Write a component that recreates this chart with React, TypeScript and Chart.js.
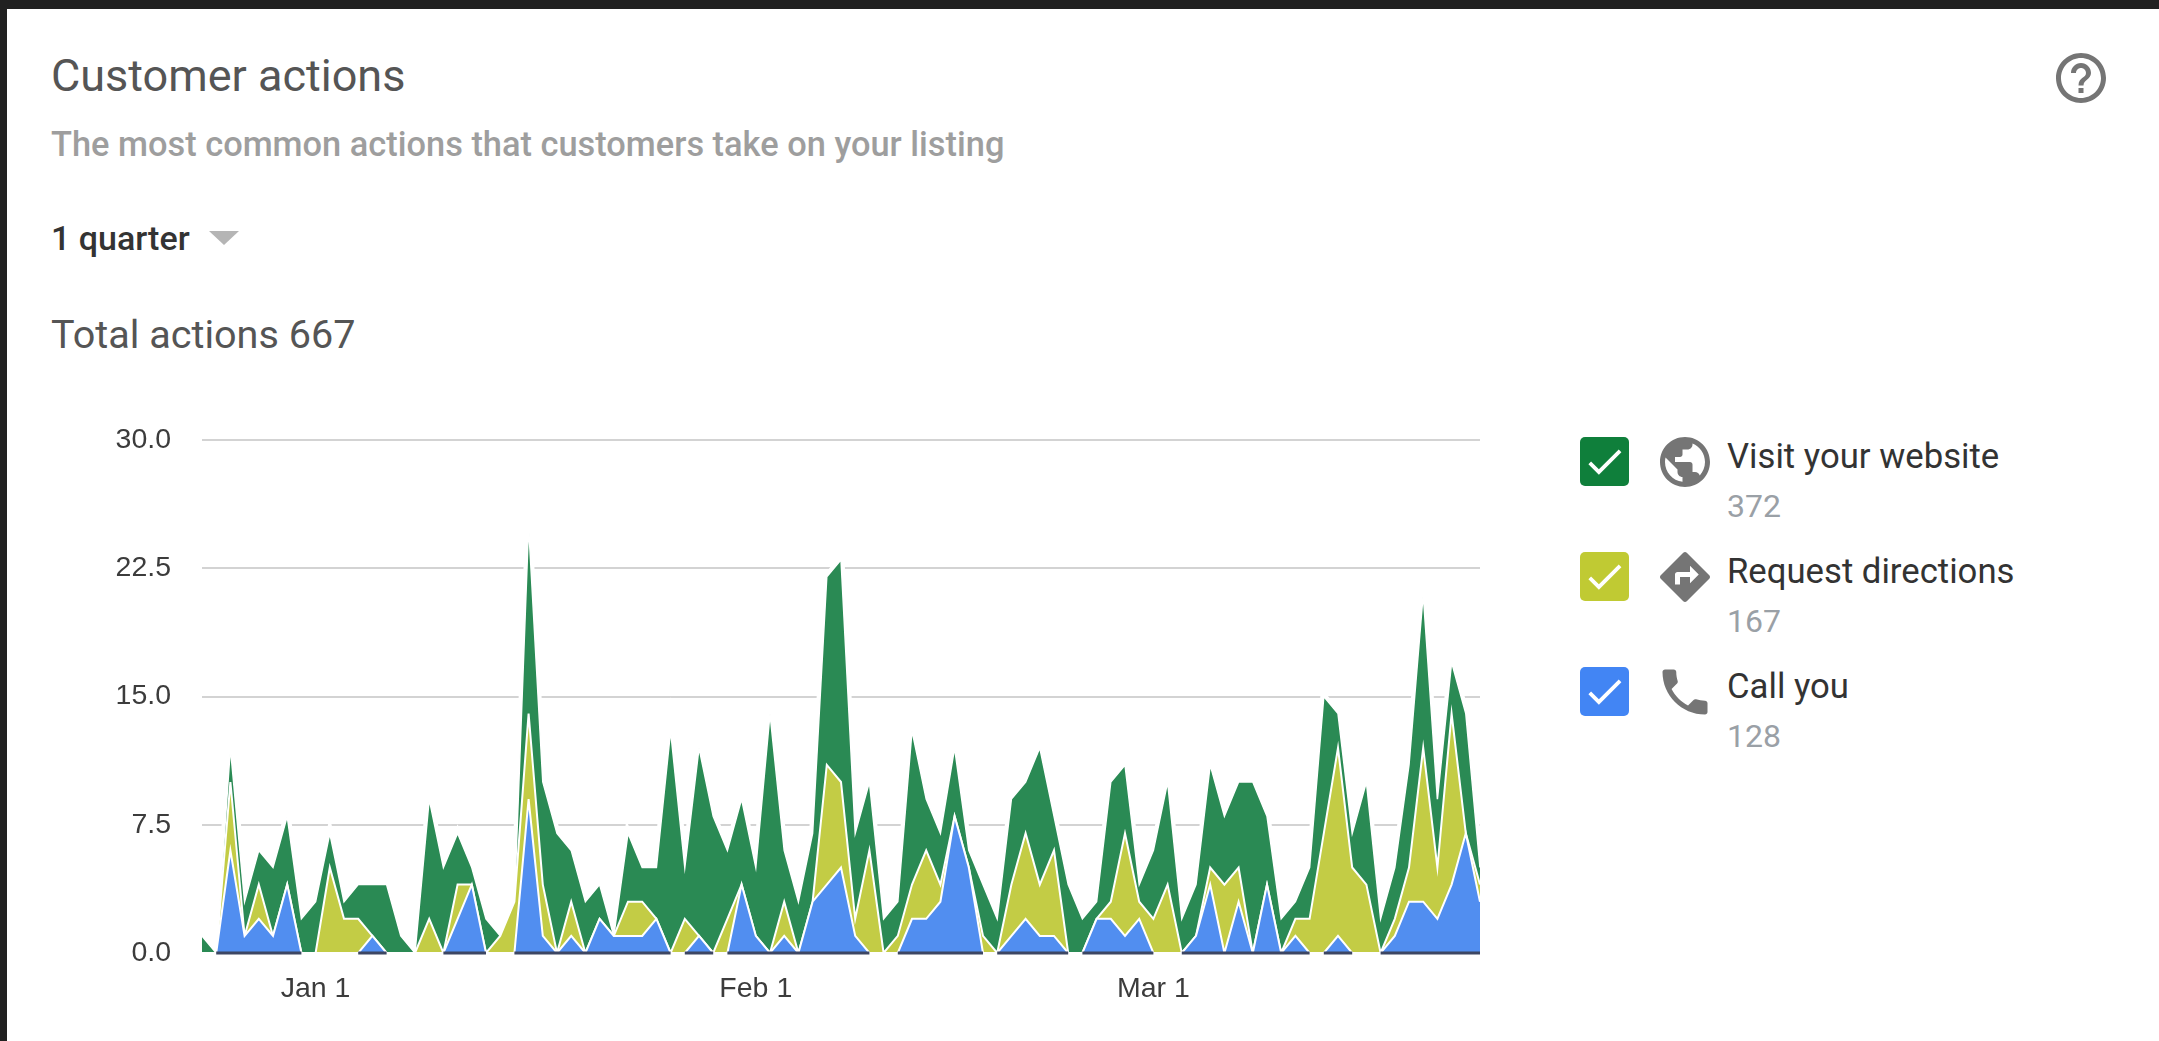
import React, { useEffect, useRef } from "react";
import { Chart, registerables } from "chart.js";

Chart.register(...registerables);

// One label per day, Dec 24 through Mar 24.
const monthSpans: [string, number, number][] = [
  ["Dec", 24, 31],
  ["Jan", 1, 31],
  ["Feb", 1, 28],
  ["Mar", 1, 24],
];
const dayLabels: string[] = monthSpans.flatMap(([m, from, to]) => {
  const out: string[] = [];
  for (let d = from; d <= to; d++) out.push(`${m} ${d}`);
  return out;
});
const shownDates = ["Jan 1", "Feb 1", "Mar 1"];

const callYou = [
  0, 0, 6, 1, 2, 1, 4, 0, 0, 0,
  0, 0, 1, 0, 0, 0, 0, 0, 2, 4,
  0, 0, 0, 9, 1, 0, 1, 0, 2, 1,
  1, 1, 2, 0, 0, 1, 0, 0, 4, 1,
  0, 1, 0, 3, 4, 5, 1, 0, 0, 0,
  2, 2, 3, 8, 5, 0, 0, 1, 2, 1,
  1, 0, 0, 2, 2, 1, 2, 0, 0, 0,
  1, 4, 0, 3, 0, 4, 0, 1, 0, 0,
  1, 0, 0, 0, 1, 3, 3, 2, 4, 7,
  3,
];
const requestDirections = [
  0, 0, 4, 0, 2, 0, 0, 0, 0, 5,
  2, 2, 0, 0, 0, 0, 2, 0, 2, 0,
  0, 1, 3, 5, 3, 0, 2, 0, 0, 0,
  2, 2, 0, 0, 2, 0, 0, 2, 0, 0,
  0, 2, 0, 0, 7, 5, 1, 6, 0, 1,
  2, 4, 1, 0, 0, 1, 0, 3, 5, 3,
  5, 0, 0, 0, 1, 6, 1, 2, 4, 0,
  0, 1, 4, 2, 0, 0, 0, 1, 2, 7,
  11, 5, 4, 0, 1, 2, 9, 3, 10, 0,
  1,
];
const visitWebsite = [
  1, 0, 2, 2, 2, 4, 4, 2, 3, 2,
  1, 2, 3, 4, 1, 0, 7, 5, 3, 1,
  2, 0, 0, 11, 6, 7, 3, 3, 2, 0,
  4, 2, 3, 13, 3, 11, 8, 4, 5, 4,
  14, 3, 3, 4, 11, 13, 5, 4, 2, 2,
  9, 3, 3, 4, 1, 3, 2, 5, 3, 8,
  2, 4, 2, 1, 7, 4, 1, 4, 6, 2,
  3, 6, 4, 5, 10, 4, 2, 1, 3, 8,
  2, 2, 6, 2, 3, 6, 9, 4, 3, 7,
  1,
];

const yTickStep = 7.5;
const yMax = 30;

const GREEN = "#2A8A54";
const YELLOW = "#C3CC45";
const BLUE = "#518EF0";

const ICON_GLOBE =
  "M12 2C6.48 2 2 6.48 2 12s4.48 10 10 10 10-4.48 10-10S17.52 2 12 2zm-1 17.93c-3.95-.49-7-3.85-7-7.93 0-.62.08-1.21.21-1.79L9 15v1c0 1.1.9 2 2 2v1.93zm6.9-2.54c-.26-.81-1-1.39-1.9-1.39h-1v-3c0-.55-.45-1-1-1H8v-2h2c.55 0 1-.45 1-1V7h2c1.1 0 2-.9 2-2v-.41c2.93 1.19 5 4.06 5 7.41 0 2.08-.8 3.97-2.1 5.39z";
const ICON_DIRECTIONS =
  "M21.71 11.29l-9-9c-.39-.39-1.02-.39-1.41 0l-9 9c-.39.39-.39 1.02 0 1.41l9 9c.39.39 1.02.39 1.41 0l9-9c.39-.38.39-1.01 0-1.41zM14 14.5V12h-4v3H8v-4c0-.55.45-1 1-1h5V7.5l3.5 3.5-3.5 3.5z";
const ICON_PHONE =
  "M6.62 10.79c1.44 2.83 3.76 5.14 6.59 6.59l2.2-2.2c.27-.27.67-.36 1.02-.24 1.12.37 2.33.57 3.57.57.55 0 1 .45 1 1V20c0 .55-.45 1-1 1-9.39 0-17-7.61-17-17 0-.55.45-1 1-1h3.5c.55 0 1 .45 1 1 0 1.25.2 2.45.57 3.57.11.35.03.74-.25 1.02l-2.2 2.2z";
const ICON_HELP =
  "M11 18h2v-2h-2v2zm1-16C6.48 2 2 6.48 2 12s4.48 10 10 10 10-4.48 10-10S17.52 2 12 2zm0 18c-4.41 0-8-3.59-8-8s3.59-8 8-8 8 3.59 8 8-3.59 8-8 8zm0-14c-2.21 0-4 1.79-4 4h2c0-1.1.9-2 2-2s2 .9 2 2c0 2-3 1.75-3 5h2c0-2.25 3-2.5 3-5 0-2.21-1.79-4-4-4z";
const ICON_CHECK = "M9 16.17L4.83 12l-1.41 1.41L9 19 21 7l-1.41-1.41z";

const legendRows = [
  { label: "Visit your website", count: "372", color: "#0F7F3B", icon: ICON_GLOBE, boxTop: 437, textY: 457, countY: 506 },
  { label: "Request directions", count: "167", color: "#C0CA33", icon: ICON_DIRECTIONS, boxTop: 552, textY: 572, countY: 621 },
  { label: "Call you", count: "128", color: "#4285F4", icon: ICON_PHONE, boxTop: 667, textY: 687, countY: 736 },
];

function Label(props: { x: number; y: number; size: number; color: string; weight?: number; text: string }) {
  const { x, y, size, color, weight, text } = props;
  return (
    <div
      style={{
        position: "absolute",
        left: x,
        top: y,
        transform: "translateY(-50%)",
        fontFamily: "Roboto, sans-serif",
        fontSize: size,
        fontWeight: weight ?? 400,
        color,
        whiteSpace: "nowrap",
        lineHeight: 1.2,
      }}
    >
      {text}
    </div>
  );
}

function Glyph(props: { d: string; x: number; y: number; size: number; color: string }) {
  const { d, x, y, size, color } = props;
  return (
    <svg
      viewBox="0 0 24 24"
      width={size}
      height={size}
      style={{ position: "absolute", left: x - size / 2, top: y - size / 2 }}
    >
      <path d={d} fill={color} />
    </svg>
  );
}

export default function App() {
  const canvasRef = useRef<HTMLCanvasElement | null>(null);

  useEffect(() => {
    const totals = dayLabels.map((_, i) => callYou[i] + requestDirections[i] + visitWebsite[i]);
    const chart = new Chart(canvasRef.current as HTMLCanvasElement, {
      type: "line",
      data: {
        labels: dayLabels,
        datasets: [
          // Dark base under the stretches where calls are non-zero.
          {
            label: "base",
            stack: "base",
            data: dayLabels.map(() => 0),
            borderWidth: 3,
            borderColor: "transparent",
            pointRadius: 0,
            fill: false,
            clip: 4,
            segment: {
              borderColor: (ctx: any) =>
                callYou[ctx.p0DataIndex] > 0 && callYou[ctx.p1DataIndex] > 0
                  ? "#3D4663"
                  : callYou[ctx.p0DataIndex] > 0 || callYou[ctx.p1DataIndex] > 0
                    ? "#3D4663"
                    : "transparent",
            },
          },
          {
            label: "Call you",
            data: callYou,
            backgroundColor: BLUE,
            borderColor: "#ffffff",
            borderWidth: 2,
            pointRadius: 0,
            tension: 0,
            fill: "origin",
          },
          {
            label: "Request directions",
            data: requestDirections,
            backgroundColor: YELLOW,
            borderColor: "#ffffff",
            borderWidth: 2,
            pointRadius: 0,
            tension: 0,
            fill: "-1",
          },
          {
            label: "Visit your website",
            data: visitWebsite,
            backgroundColor: GREEN,
            borderColor: "#ffffff",
            borderWidth: 1.5,
            pointRadius: 0,
            tension: 0,
            fill: "-1",
          },
          // White halo that parts the grid lines around the peaks.
          {
            label: "halo",
            stack: "halo",
            data: totals,
            borderColor: "#ffffff",
            borderWidth: 7,
            pointRadius: 0,
            tension: 0,
            fill: false,
          },
        ],
      },
      options: {
        animation: false,
        responsive: false,
        maintainAspectRatio: false,
        layout: { padding: { top: 40, right: 0, left: 0, bottom: 0 } },
        plugins: { legend: { display: false }, tooltip: { enabled: false } },
        scales: {
          x: {
            type: "category",
            offset: false,
            border: { display: false },
            grid: { display: false, drawTicks: false },
            afterFit: (scale: any) => {
              scale.height = 88;
              scale.paddingLeft = 0;
              scale.paddingRight = 0;
            },
            ticks: {
              autoSkip: false,
              maxRotation: 0,
              padding: 19,
              color: "#3C3C3C",
              font: { family: "'Liberation Sans', Arial, sans-serif", size: 28.5 },
              callback(this: any, _v: any, index: number) {
                const label = dayLabels[index];
                return shownDates.includes(label) ? label : "";
              },
            },
          },
          y: {
            stacked: true,
            min: 0,
            max: yMax,
            border: { display: false },
            grid: {
              drawTicks: false,
              lineWidth: 2,
              color: (ctx: any) => (ctx.tick.value === 0 ? "transparent" : "#D3D3D3"),
            },
            afterFit: (scale: any) => {
              scale.width = 202;
              scale.paddingTop = 0;
              scale.paddingBottom = 0;
            },
            ticks: {
              stepSize: yTickStep,
              padding: 31,
              color: "#3C3C3C",
              font: { family: "'Liberation Sans', Arial, sans-serif", size: 28.5 },
              callback: (v: any) => Number(v).toFixed(1),
            },
          },
        },
      },
    });
    return () => chart.destroy();
  }, []);

  return (
    <div
      style={{
        position: "absolute",
        left: 0,
        top: 0,
        width: 2159,
        height: 1041,
        overflow: "hidden",
        background: "#ffffff",
      }}
    >
      <div style={{ position: "absolute", left: 0, top: 0, width: 2159, height: 9, background: "#212121" }} />
      <div style={{ position: "absolute", left: 0, top: 0, width: 7, height: 1041, background: "#212121" }} />

      <Label x={51} y={76} size={45} color="#555555" text="Customer actions" />
      <Label x={51} y={145} size={34.4} color="#9E9E9E" weight={500} text="The most common actions that customers take on your listing" />
      <Label x={51} y={238} size={34} color="#333333" weight={500} text="1 quarter" />
      <div
        style={{
          position: "absolute",
          left: 209,
          top: 231,
          width: 0,
          height: 0,
          borderLeft: "15px solid transparent",
          borderRight: "15px solid transparent",
          borderTop: "14px solid #B5B5B5",
        }}
      />
      <Label x={51} y={335} size={39.6} color="#555555" text="Total actions 667" />
      <Glyph d={ICON_HELP} x={2081} y={78} size={60} color="#757575" />

      <div style={{ position: "absolute", left: 0, top: 400 }}>
        <canvas ref={canvasRef} width={1480} height={641} style={{ display: "block" }} />
      </div>

      {legendRows.map((row) => (
        <React.Fragment key={row.label}>
          <div
            style={{
              position: "absolute",
              left: 1580,
              top: row.boxTop,
              width: 49,
              height: 49,
              borderRadius: 5,
              background: row.color,
            }}
          >
            <svg viewBox="0 0 24 24" width={45} height={45} style={{ position: "absolute", left: 2, top: 2 }}>
              <path d={ICON_CHECK} fill="#ffffff" />
            </svg>
          </div>
          <Glyph d={row.icon} x={1685} y={row.boxTop + 24.5} size={60} color="#757575" />
          <Label x={1727} y={row.textY} size={34.7} color="#333333" text={row.label} />
          <Label x={1727} y={row.countY} size={32} color="#9AA0A6" text={row.count} />
        </React.Fragment>
      ))}
    </div>
  );
}
